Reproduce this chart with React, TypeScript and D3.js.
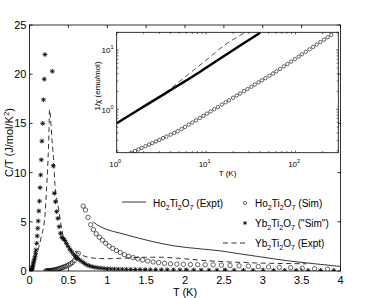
import React from 'react';
import * as d3 from 'd3';

// ---------- main panel data ----------
const xTickVals = [0, 0.5, 1, 1.5, 2, 2.5, 3, 3.5, 4];
const xTickLabels = ['0', '0.5', '1', '1.5', '2', '2.5', '3', '3.5', '4'];
const yTickVals = [0, 5, 10, 15, 20, 25];

// Ho2Ti2O7 (Expt) solid line
const hoExptT = [0.82, 0.9, 1.0, 1.16, 1.35, 1.55, 1.87, 2.2, 2.45, 2.7, 2.96, 3.31, 3.65, 4.0];
const hoExptC = [4.98, 4.55, 4.2, 3.86, 3.45, 3.05, 2.54, 2.25, 2.05, 1.75, 1.45, 1.05, 0.75, 0.46];

// Ho2Ti2O7 (Sim) open circles
const hoSimT = [0.21, 0.22, 0.23, 0.24, 0.25, 0.26, 0.272, 0.284, 0.297, 0.31, 0.324, 0.339, 0.354, 0.37, 0.387, 0.404, 0.422, 0.441, 0.461, 0.482, 0.504, 0.527, 0.551, 0.576, 0.602, 0.629,
  0.69, 0.72, 0.753, 0.787, 0.822, 0.859, 0.898, 0.938, 0.98, 1.024, 1.07, 1.118, 1.168, 1.221, 1.276, 1.333, 1.393, 1.456, 1.521, 1.59, 1.661, 1.736, 1.814, 1.896, 1.981, 2.07, 2.163, 2.26, 2.362, 2.468, 2.579, 2.695, 2.816, 2.943, 3.075, 3.213, 3.358, 3.509, 3.667, 3.832];
const hoSimC = [0.0, 0.01, 0.01, 0.02, 0.02, 0.03, 0.04, 0.05, 0.07, 0.09, 0.11, 0.14, 0.17, 0.21, 0.25, 0.3, 0.35, 0.41, 0.47, 0.54, 0.62, 0.72, 0.86, 1.05, 1.35, 1.8,
  6.6, 6.2, 5.45, 4.7, 4.2, 3.78, 3.43, 3.13, 2.82, 2.53, 2.3, 2.08, 1.88, 1.66, 1.5, 1.36, 1.23, 1.13, 1.01, 0.92, 0.86, 0.78, 0.73, 0.7, 0.68, 0.66, 0.64, 0.63, 0.62, 0.6, 0.56, 0.53, 0.49, 0.45, 0.41, 0.37, 0.33, 0.28, 0.23, 0.18];

// Yb2Ti2O7 ("Sim") stars
const ybSimT = [0.015, 0.02, 0.025, 0.03, 0.035, 0.04, 0.045, 0.05, 0.056, 0.063, 0.071, 0.078, 0.084, 0.093, 0.099, 0.106, 0.112, 0.12, 0.128, 0.136, 0.144, 0.152, 0.16, 0.17, 0.18, 0.19, 0.199,
  0.293, 0.306, 0.319, 0.334, 0.349, 0.365, 0.381, 0.398, 0.416, 0.435, 0.455, 0.475, 0.497, 0.519, 0.542, 0.567, 0.592, 0.619, 0.647, 0.676, 0.706, 0.738, 0.771, 0.806, 0.842, 0.88, 0.92, 0.96, 1.0,
  1.045, 1.092, 1.141, 1.193, 1.246, 1.302, 1.361, 1.422, 1.486, 1.553, 1.623, 1.696, 1.772, 1.852, 1.935, 2.022, 2.113, 2.208, 2.308, 2.411, 2.52, 2.633, 2.752, 2.876, 3.005, 3.14, 3.282, 3.43, 3.584, 3.745, 3.914];
const ybSimC = [0.02, 0.05, 0.1, 0.18, 0.3, 0.42, 0.6, 0.8, 1.0, 1.2, 1.45, 1.8, 2.13, 2.81, 3.56, 4.34, 5.08, 6.1, 7.1, 8.47, 9.76, 11.3, 13.2, 15.0, 17.4, 19.5, 22.0,
  20.3, 10.7, 7.9, 7.04, 6.03, 5.35, 4.5, 3.83, 3.4, 3.3, 3.1, 2.8, 2.5, 2.2, 1.95, 1.7, 1.45, 1.28, 1.12, 0.95, 0.78, 0.62, 0.52, 0.44, 0.38, 0.33, 0.29, 0.26, 0.23,
  0.21, 0.2, 0.19, 0.18, 0.17, 0.16, 0.15, 0.15, 0.14, 0.13, 0.13, 0.12, 0.12, 0.11, 0.11, 0.1, 0.1, 0.1, 0.09, 0.09, 0.09, 0.08, 0.08, 0.08, 0.07, 0.07, 0.07, 0.07, 0.06, 0.06, 0.06];

// Yb2Ti2O7 (Expt) dashed line
const ybExptT = [0.071, 0.148, 0.199, 0.219, 0.238, 0.251, 0.257, 0.277, 0.289, 0.306, 0.328, 0.37, 0.435, 0.5, 0.563, 0.65, 0.75, 0.86, 1.0, 1.16, 1.35, 1.5, 1.7, 1.9, 2.2, 2.5, 2.8, 3.1, 3.4, 3.56];
const ybExptC = [1.32, 3.35, 5.69, 8.23, 11.3, 14.3, 16.4, 14.8, 13.3, 11.8, 8.74, 6.5, 3.49, 2.47, 2.13, 1.7, 1.4, 1.29, 1.25, 1.29, 1.35, 1.4, 1.4, 1.3, 1.1, 0.95, 0.85, 0.78, 0.75, 0.73];

// ---------- inset data ----------
const inThickT = [1, 1.5, 2, 3.5, 5, 7.5, 10, 17, 25, 40];
const inThickV = [0.58, 0.85, 1.11, 1.86, 2.6, 3.8, 5.05, 8.5, 12.4, 19.6];

const inDashT = [3.5, 5, 7.5, 10, 17.1, 24.3, 28];
const inDashV = [1.9, 2.93, 4.79, 6.77, 13.0, 17.9, 20.4];

const inCircT = [1.45, 1.6, 1.75, 1.9, 2.1, 2.3, 2.5, 2.75, 3, 3.3, 3.6, 4, 4.4, 4.8, 5.3, 5.8, 6.4, 7, 7.7, 8.5, 9.3, 10.2, 11.2, 12.3, 13.5, 15, 16.5, 18, 20, 22, 24, 26.5, 29, 32, 35, 38.5, 42, 46, 51, 56, 61, 67, 74, 81, 89, 98, 108, 118, 130, 143, 157, 172, 189, 208, 228, 250];
const inCircV = [0.185, 0.198, 0.21, 0.2225, 0.238, 0.2535, 0.268, 0.286, 0.304, 0.326, 0.347, 0.3737, 0.4, 0.4256, 0.464, 0.504, 0.5515, 0.5985, 0.6533, 0.7153, 0.777, 0.846, 0.921, 1.004, 1.093, 1.205, 1.314, 1.4225, 1.567, 1.71, 1.851, 2.027, 2.2, 2.408, 2.615, 2.853, 3.09, 3.357, 3.69, 4.02, 4.37, 4.805, 5.31, 5.82, 6.4, 7.05, 7.77, 8.5, 9.37, 10.31, 11.33, 12.43, 13.67, 15.05, 16.51, 18.11];

const legendTails = ['(Expt)', '(Sim)', '("Sim")', '(Expt)'];

const FONT = 'Liberation Sans, Arial, Helvetica, sans-serif';

function Chem({ x, y, el, tail, fs }: { x: number; y: number; el: string; tail: string; fs: number }) {
  const sub = fs * 0.72;
  const d = fs * 0.3;
  return (
    <text x={x} y={y} fontSize={fs} fontFamily={FONT} fill="#000">
      {el}
      <tspan fontSize={sub} dy={d}>2</tspan>
      <tspan dy={-d}>Ti</tspan>
      <tspan fontSize={sub} dy={d}>2</tspan>
      <tspan dy={-d}>O</tspan>
      <tspan fontSize={sub} dy={d}>7</tspan>
      <tspan dy={-d}>{'\u00a0' + tail}</tspan>
    </text>
  );
}

function starPath(cx: number, cy: number, r: number) {
  const q = r * 0.72;
  return `M${cx - r},${cy}L${cx + r},${cy}M${cx},${cy - r}L${cx},${cy + r}M${cx - q},${cy - q}L${cx + q},${cy + q}M${cx - q},${cy + q}L${cx + q},${cy - q}`;
}

export default function App() {
  const W = 382, H = 298;
  const L = 29.5, R = 340.5, T = 25, B = 271;
  const x = d3.scaleLinear().domain([0, 4]).range([L, R]);
  const y = d3.scaleLinear().domain([0, 25]).range([B, T]);

  const iL = 116.7, iR = 338.3, iT = 32.3, iB = 152.7;
  const xi = d3.scaleLog().domain([1, 300]).range([iL, iR]);
  const yi = d3.scaleLog().domain([0.185, 20]).range([iB, iT]);

  const lineMain = d3.line<[number, number]>().x(d => x(d[0])).y(d => y(d[1])).curve(d3.curveMonotoneX);
  const lineIn = d3.line<[number, number]>().x(d => xi(d[0])).y(d => yi(d[1])).curve(d3.curveMonotoneX);

  const zip = (a: number[], b: number[]) => a.map((v, i) => [v, b[i]] as [number, number]);

  const hoExpt = zip(hoExptT, hoExptC);
  const hoSim = zip(hoSimT, hoSimC);
  const ybSim = zip(ybSimT, ybSimC);
  const ybExpt = zip(ybExptT, ybExptC);

  const tl = 3.1;
  const itl = 2.3;

  const xiTicks = xi.ticks();
  const yiTicks = yi.ticks();
  const isMajor = (v: number) => Math.abs(Math.log10(v) - Math.round(Math.log10(v))) < 1e-9;

  return (
    <svg width={W} height={H} style={{ position: 'absolute', left: 0, top: 0, background: '#fff' }}>
      <defs>
        <clipPath id="cMain"><rect x={L} y={T} width={R - L} height={B - T} /></clipPath>
        <clipPath id="cIn"><rect x={iL} y={iT} width={iR - iL} height={iB - iT} /></clipPath>
      </defs>
      <rect x={0} y={0} width={W} height={H} fill="#fff" />

      {/* main data */}
      <g clipPath="url(#cMain)">
        <path d={lineMain(hoExpt) || ''} fill="none" stroke="#000" strokeWidth={0.8} />
        <path d={lineMain(ybExpt) || ''} fill="none" stroke="#000" strokeWidth={0.8} strokeDasharray="5,3.5" />
        {hoSim.map((d, i) => (
          <circle key={'c' + i} cx={x(d[0])} cy={y(d[1])} r={2.2} fill="none" stroke="#000" strokeWidth={0.6} />
        ))}
        {ybSim.map((d, i) => (
          <path key={'s' + i} d={starPath(x(d[0]), y(d[1]), 2.4)} stroke="#000" strokeWidth={0.85} fill="none" />
        ))}
      </g>

      {/* main frame */}
      <rect x={L} y={T} width={R - L} height={B - T} fill="none" stroke="#000" strokeWidth={0.8} />
      {xTickVals.map((v, i) => (
        <g key={'xt' + i}>
          <line x1={x(v)} x2={x(v)} y1={B} y2={B - tl} stroke="#000" strokeWidth={0.8} />
          <line x1={x(v)} x2={x(v)} y1={T} y2={T + tl} stroke="#000" strokeWidth={0.8} />
          <text x={x(v)} y={283.5} fontSize={11} fontFamily={FONT} textAnchor="middle">{xTickLabels[i]}</text>
        </g>
      ))}
      {yTickVals.map((v, i) => (
        <g key={'yt' + i}>
          <line x1={L} x2={L + tl} y1={y(v)} y2={y(v)} stroke="#000" strokeWidth={0.8} />
          <line x1={R} x2={R - tl} y1={y(v)} y2={y(v)} stroke="#000" strokeWidth={0.8} />
          <text x={26.5} y={y(v) + 4} fontSize={11} fontFamily={FONT} textAnchor="end">{String(v)}</text>
        </g>
      ))}
      <text x={(L + R) / 2} y={296.3} fontSize={11} fontFamily={FONT} textAnchor="middle">T (K)</text>
      <text transform={`translate(12.5,${142.5}) rotate(-90)`} fontSize={11} fontFamily={FONT} textAnchor="middle">
        C/T (J/mol/K<tspan fontSize={8} dy={-4}>2</tspan><tspan dy={4}>)</tspan>
      </text>

      {/* inset */}
      <rect x={iL} y={iT} width={iR - iL} height={iB - iT} fill="#fff" stroke="none" />
      <g clipPath="url(#cIn)">
        <path d={lineIn(zip(inDashT, inDashV)) || ''} fill="none" stroke="#000" strokeWidth={0.7} strokeDasharray="5,3.5" />
        <path d={lineIn(zip(inThickT, inThickV)) || ''} fill="none" stroke="#000" strokeWidth={2.4} />
        {zip(inCircT, inCircV).map((d, i) => (
          <circle key={'ic' + i} cx={xi(d[0])} cy={yi(d[1])} r={1.7} fill="none" stroke="#000" strokeWidth={0.6} />
        ))}
      </g>
      <rect x={iL} y={iT} width={iR - iL} height={iB - iT} fill="none" stroke="#000" strokeWidth={0.8} />
      {xiTicks.map((v, i) => {
        const len = isMajor(v) ? itl : itl * 0.7;
        return (
          <g key={'xit' + i}>
            <line x1={xi(v)} x2={xi(v)} y1={iB} y2={iB - len} stroke="#000" strokeWidth={0.6} />
            <line x1={xi(v)} x2={xi(v)} y1={iT} y2={iT + len} stroke="#000" strokeWidth={0.6} />
          </g>
        );
      })}
      {yiTicks.map((v, i) => {
        const len = isMajor(v) ? itl : itl * 0.7;
        return (
          <g key={'yit' + i}>
            <line x1={iL} x2={iL + len} y1={yi(v)} y2={yi(v)} stroke="#000" strokeWidth={0.6} />
            <line x1={iR} x2={iR - len} y1={yi(v)} y2={yi(v)} stroke="#000" strokeWidth={0.6} />
          </g>
        );
      })}
      {xiTicks.filter(isMajor).map((v, i) => (
        <text key={'xil' + i} x={xi(v) - 1.5} y={166.5} fontSize={8} fontFamily={FONT} textAnchor="middle">
          10<tspan fontSize={5.5} dy={-4}>{String(Math.round(Math.log10(v)))}</tspan>
        </text>
      ))}
      {yiTicks.filter(isMajor).map((v, i) => (
        <text key={'yil' + i} x={113.5} y={yi(v) + 3.3} fontSize={8} fontFamily={FONT} textAnchor="end">
          10<tspan fontSize={5.5} dy={-4}>{String(Math.round(Math.log10(v)))}</tspan>
        </text>
      ))}
      <text x={(iL + iR) / 2} y={176.3} fontSize={8} fontFamily={FONT} textAnchor="middle">T (K)</text>
      <text transform={`translate(100,${86}) rotate(-90)`} fontSize={8} fontFamily={FONT} textAnchor="middle">1/χ (emu/mol)</text>

      {/* legend */}
      <line x1={122} x2={146} y1={202} y2={202} stroke="#000" strokeWidth={0.8} />
      <Chem x={153} y={207} el="Ho" tail={legendTails[0]} fs={10} />
      <circle cx={245} cy={203} r={1.6} fill="none" stroke="#000" strokeWidth={0.6} />
      <Chem x={255} y={207} el="Ho" tail={legendTails[1]} fs={10} />
      <path d={starPath(245, 223, 1.9)} stroke="#000" strokeWidth={0.8} fill="none" />
      <Chem x={255} y={227} el="Yb" tail={legendTails[2]} fs={10} />
      <line x1={223} x2={246} y1={243} y2={243} stroke="#000" strokeWidth={0.8} strokeDasharray="5,3.5" />
      <Chem x={255} y={246.5} el="Yb" tail={legendTails[3]} fs={10} />
    </svg>
  );
}
